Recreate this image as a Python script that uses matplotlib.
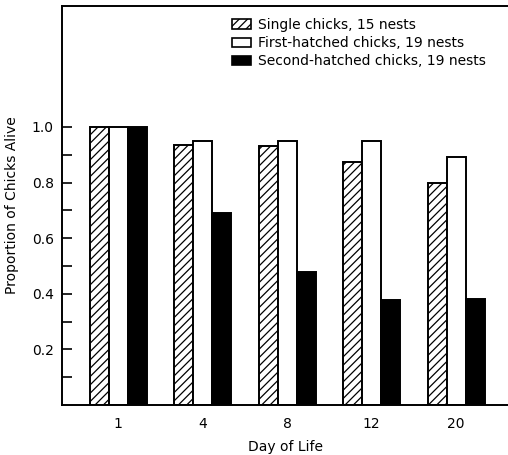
import matplotlib.pyplot as plt
from matplotlib.patches import Patch
import numpy as np

plt.rcParams["font.family"] = "DejaVu Sans"
plt.rcParams["hatch.linewidth"] = 0.9

days = ["1", "4", "8", "12", "20"]
single = [1.0, 0.935, 0.932, 0.875, 0.80]
first = [1.0, 0.951, 0.95, 0.949, 0.893]
second = [1.0, 0.69, 0.478, 0.378, 0.38]

labels = ["Single chicks, 15 nests",
          "First-hatched chicks, 19 nests",
          "Second-hatched chicks, 19 nests"]

fig = plt.figure(figsize=(5.08, 4.55), dpi=100)
ax = fig.add_axes([62/508, 50/455, 1 - 62/508, (405-6)/455])

x = np.arange(len(days))
w = 0.225
ax.bar(x - w, single, w, color="white", edgecolor="black", hatch="////", linewidth=1.4)
ax.bar(x, first, w, color="white", edgecolor="black", linewidth=1.4)
ax.bar(x + w, second, w, color="black", edgecolor="black", linewidth=1.4)

ax.set_xlim(-0.663, 4.615)
ax.set_ylim(0, 1.435)
ax.set_xticks(x)
ax.set_xticklabels(days, fontsize=10)
ax.set_yticks([0.2, 0.4, 0.6, 0.8, 1.0])
ax.set_yticklabels(["0.2", "0.4", "0.6", "0.8", "1.0"], fontsize=10)
ax.set_yticks([0.1, 0.3, 0.5, 0.7, 0.9], minor=True)
ax.tick_params(axis="y", which="both", direction="in", length=7, width=1.2, pad=6)
ax.tick_params(axis="x", length=0, pad=9)
ax.spines["right"].set_visible(False)
for s in ["left", "bottom", "top"]:
    ax.spines[s].set_linewidth(1.4)

ax.set_xlabel("Day of Life", fontsize=10, labelpad=6)
ax.set_ylabel("Proportion of Chicks Alive", fontsize=10, labelpad=9)

handles = [Patch(facecolor="white", edgecolor="black", hatch="////", linewidth=1.2),
           Patch(facecolor="black", edgecolor="black", linewidth=1.2)]
handles.insert(1, Patch(facecolor="white", edgecolor="black", linewidth=1.2))
fig.legend(handles, labels, loc="upper left", bbox_to_anchor=(232/508, 1 - 18/455),
           frameon=False, fontsize=10, handlelength=1.35, handleheight=0.65,
           handletextpad=0.55, labelspacing=0.3, borderpad=0, borderaxespad=0)

plt.savefig("out.png")
